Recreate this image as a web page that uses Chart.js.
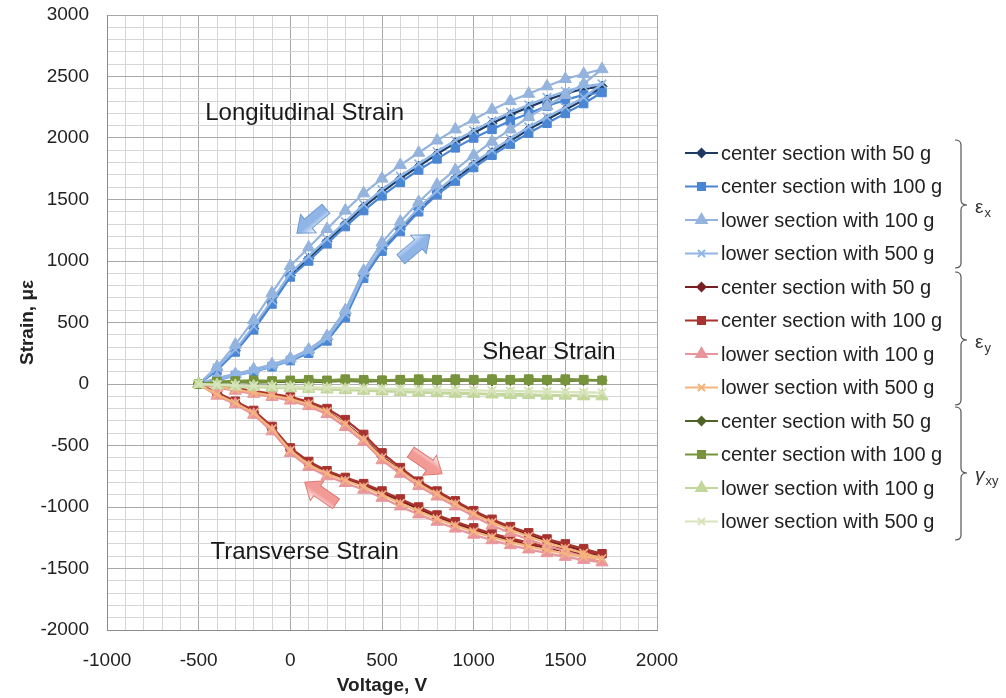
<!DOCTYPE html>
<html>
<head>
<meta charset="utf-8">
<script src="https://cdn.jsdelivr.net/npm/chart.js@4.4.1/dist/chart.umd.min.js"></script>
<style>
  html, body { margin: 0; padding: 0; background: #fff; }
  #wrap { position: relative; width: 1006px; height: 698px; }
</style>
</head>
<body>
<div id="wrap"><canvas id="strainChart"></canvas></div>
<script>
// voltage sweep: up from -500 V to 1700 V, then back down to -500 V
const voltage = [-500,-400,-300,-200,-100,0,100,200,300,400,500,600,700,800,900,1000,1100,1200,1300,1400,1500,1600,1700,
                 1600,1500,1400,1300,1200,1100,1000,900,800,700,600,500,400,300,200,100,0,-100,-200,-300,-400,-500];

// longitudinal strain (epsilon x), micro-strain
const exCenter50 = [0,40,75,110,150,200,260,360,560,880,1100,1260,1420,1560,1670,1780,1880,1975,2070,2150,2230,2310,2420,
                    2400,2360,2310,2250,2190,2120,2040,1960,1870,1770,1670,1560,1440,1300,1160,1020,880,660,450,270,120,0];
const exCenter100 = [0,30,70,100,140,190,250,350,540,860,1080,1240,1400,1540,1650,1760,1860,1950,2040,2120,2200,2280,2370,
                     2350,2310,2260,2200,2140,2070,2000,1920,1830,1740,1640,1530,1410,1280,1140,1000,870,650,440,260,110,0];
const exLower100 = [0,50,80,120,160,210,280,390,600,920,1150,1320,1480,1620,1740,1860,1970,2070,2170,2260,2350,2440,2560,
                    2520,2480,2420,2360,2300,2230,2150,2070,1980,1880,1780,1670,1550,1410,1260,1110,960,740,520,320,140,0];
const exLower500 = [0,35,70,105,145,195,265,370,570,890,1110,1270,1430,1570,1690,1800,1900,1995,2090,2170,2250,2330,2440,
                    2420,2380,2330,2270,2210,2140,2060,1980,1890,1790,1690,1580,1460,1320,1180,1040,900,680,470,280,130,0];

// transverse strain (epsilon y)
const eyCenter50 = [0,-20,-40,-65,-90,-115,-160,-220,-320,-440,-590,-700,-800,-885,-965,-1045,-1115,-1175,-1225,-1275,-1315,-1355,-1390,
                    -1380,-1360,-1335,-1305,-1270,-1230,-1185,-1135,-1080,-1015,-950,-885,-825,-775,-720,-645,-530,-360,-230,-150,-80,0];
const eyCenter100 = [0,-15,-35,-55,-80,-105,-145,-200,-290,-410,-560,-680,-790,-870,-950,-1030,-1100,-1160,-1210,-1260,-1300,-1340,-1380,
                     -1365,-1345,-1320,-1290,-1255,-1215,-1170,-1120,-1065,-1000,-935,-870,-810,-760,-705,-630,-520,-345,-215,-140,-70,0];
const eyLower100 = [0,-30,-55,-80,-105,-135,-180,-245,-350,-470,-620,-730,-830,-915,-995,-1075,-1150,-1210,-1265,-1315,-1360,-1405,-1450,
                    -1430,-1405,-1375,-1345,-1310,-1270,-1225,-1175,-1120,-1060,-995,-925,-860,-805,-750,-675,-560,-385,-250,-165,-95,0];
const eyLower500 = [0,-20,-45,-70,-95,-120,-165,-225,-325,-450,-600,-705,-810,-895,-975,-1055,-1125,-1185,-1240,-1290,-1335,-1375,-1420,
                    -1405,-1380,-1350,-1320,-1285,-1245,-1200,-1150,-1095,-1035,-970,-900,-835,-785,-730,-655,-540,-365,-235,-155,-85,0];

// shear strain (gamma xy)
const gCenter50 = [0,10,15,20,15,20,25,20,25,30,25,30,25,30,35,30,25,30,35,30,25,30,30,
                   30,35,30,25,30,35,30,25,30,25,30,25,20,25,20,15,20,15,10,15,10,0];
const gCenter100 = [0,20,25,30,25,30,35,30,40,35,30,35,40,35,30,35,40,35,30,35,40,35,30,
                    35,30,35,40,35,30,35,40,35,30,35,30,25,30,25,20,25,20,15,20,15,0];
const gLower100 = [0,-10,-15,-20,-25,-30,-35,-40,-45,-50,-55,-60,-65,-70,-70,-75,-80,-80,-85,-90,-90,-95,-100,
                   -100,-95,-95,-90,-90,-85,-80,-80,-75,-70,-65,-60,-55,-50,-45,-40,-35,-30,-25,-20,-10,0];
const gLower500 = [0,-5,-10,-15,-20,-20,-25,-30,-30,-35,-40,-40,-45,-45,-50,-50,-55,-55,-60,-60,-65,-65,-70,
                   -70,-65,-65,-60,-60,-55,-55,-50,-50,-45,-45,-40,-40,-35,-30,-30,-25,-20,-15,-10,-5,0];

const seriesLabels = ['center section with 50 g', 'center section with 100 g',
                      'lower section with 100 g', 'lower section with 500 g'];

const FONT = "'Liberation Sans', Arial, sans-serif";

const toPoints = arr => arr.map((s, i) => ({ x: voltage[i], y: s }));

function makeSet(label, values, color, style, radius) {
    const isCross = style === 'crossRot';
    return {
        label: label,
        data: toPoints(values),
        showLine: true,
        borderColor: color,
        backgroundColor: color,
        borderWidth: 2.2,
        pointStyle: style,
        pointRadius: radius,
        pointBackgroundColor: color,
        pointBorderColor: color,
        pointBorderWidth: isCross ? 1.6 : 1,
        tension: 0
    };
}

const datasets = [
    makeSet(seriesLabels[0], exCenter50, '#1f3a60', 'rectRot', 5),
    makeSet(seriesLabels[1], exCenter100, '#4a86d4', 'rect', 6),
    makeSet(seriesLabels[2], exLower100, '#94b3dd', 'triangle', 7),
    makeSet(seriesLabels[3], exLower500, '#8fb6e6', 'crossRot', 6),
    makeSet(seriesLabels[0], eyCenter50, '#7a1f1f', 'rectRot', 5),
    makeSet(seriesLabels[1], eyCenter100, '#a8322e', 'rect', 6),
    makeSet(seriesLabels[2], eyLower100, '#e8969b', 'triangle', 7),
    makeSet(seriesLabels[3], eyLower500, '#f5b47d', 'crossRot', 6),
    makeSet(seriesLabels[0], gCenter50, '#4f6228', 'rectRot', 5),
    makeSet(seriesLabels[1], gCenter100, '#77933c', 'rect', 6),
    makeSet(seriesLabels[2], gLower100, '#c3d69b', 'triangle', 7),
    makeSet(seriesLabels[3], gLower500, '#d8e4bc', 'crossRot', 6)
];
// later series sit on top, as in the spreadsheet original
datasets.forEach((ds, i) => { ds.order = datasets.length - 1 - i; });

// block arrow drawn in data coordinates
function blockArrow(ctx, x, y, angle, fill, stroke) {
    ctx.save();
    ctx.translate(x, y);
    ctx.rotate(angle);
    ctx.beginPath();
    ctx.moveTo(-19, -6);
    ctx.lineTo(4, -6);
    ctx.lineTo(4, -12);
    ctx.lineTo(19, 0);
    ctx.lineTo(4, 12);
    ctx.lineTo(4, 6);
    ctx.lineTo(-19, 6);
    ctx.closePath();
    const grad = ctx.createLinearGradient(0, -12, 0, 12);
    grad.addColorStop(0, '#ffffff');
    grad.addColorStop(0.45, fill);
    grad.addColorStop(1, fill);
    ctx.fillStyle = grad;
    ctx.fill();
    ctx.strokeStyle = stroke;
    ctx.lineWidth = 1;
    ctx.stroke();
    ctx.restore();
}

const decorations = {
    id: 'decorations',
    afterDatasetsDraw(chart) {
        const ctx = chart.ctx;
        const xs = chart.scales.x, ys = chart.scales.y;
        ctx.save();
        // annotations
        ctx.fillStyle = '#1a1a1a';
        ctx.font = '24px ' + FONT;
        ctx.textBaseline = 'middle';
        ctx.textAlign = 'left';
        ctx.fillText('Longitudinal Strain', xs.getPixelForValue(-464), ys.getPixelForValue(2203));
        ctx.fillText('Shear Strain', xs.getPixelForValue(1047), ys.getPixelForValue(260));
        ctx.fillText('Transverse Strain', xs.getPixelForValue(-436), ys.getPixelForValue(-1366));

        // direction arrows
        blockArrow(ctx, xs.getPixelForValue(115), ys.getPixelForValue(1325), 2.44, '#8fb4e6', '#6f98d0');
        blockArrow(ctx, xs.getPixelForValue(682), ys.getPixelForValue(1114), -0.70, '#8fb4e6', '#6f98d0');
        blockArrow(ctx, xs.getPixelForValue(742), ys.getPixelForValue(-642), 0.60, '#f29a96', '#dc7a75');
        blockArrow(ctx, xs.getPixelForValue(164), ys.getPixelForValue(-886), -2.54, '#f29a96', '#dc7a75');
        ctx.restore();
    },
    afterDraw(chart) {
        const ctx = chart.ctx;
        ctx.save();
        // legend with line + marker
        const top = 153, step = 33.5;
        chart.data.datasets.forEach((ds, i) => {
            const y = top + i * step;
            ctx.strokeStyle = ds.borderColor;
            ctx.lineWidth = 2;
            ctx.beginPath();
            ctx.moveTo(685, y);
            ctx.lineTo(718, y);
            ctx.stroke();
            ctx.fillStyle = ds.pointBackgroundColor;
            ctx.strokeStyle = ds.pointBorderColor;
            Chart.helpers.drawPoint(ctx, {
                pointStyle: ds.pointStyle, radius: ds.pointRadius - 1,
                borderWidth: ds.pointBorderWidth, rotation: 0
            }, 701.5, y);
            ctx.fillStyle = '#222';
            ctx.font = '20px ' + FONT;
            ctx.textBaseline = 'middle';
            ctx.textAlign = 'left';
            ctx.fillText(ds.label, 721, y + 1);
        });

        // braces grouping the legend entries
        const braces = [
            { y1: 140, y2: 268, ym: 205, sym: 'ε', sub: 'x', italic: false },
            { y1: 272, y2: 405, ym: 340, sym: 'ε', sub: 'y', italic: false },
            { y1: 407, y2: 540, ym: 473, sym: 'γ', sub: 'xy', italic: true }
        ];
        const bx = 961;
        ctx.strokeStyle = '#555';
        ctx.lineWidth = 1.2;
        braces.forEach(b => {
            ctx.beginPath();
            ctx.moveTo(bx - 6, b.y1);
            ctx.quadraticCurveTo(bx, b.y1, bx, b.y1 + 5);
            ctx.lineTo(bx, b.ym - 5);
            ctx.quadraticCurveTo(bx, b.ym, bx + 6, b.ym);
            ctx.quadraticCurveTo(bx, b.ym, bx, b.ym + 5);
            ctx.lineTo(bx, b.y2 - 5);
            ctx.quadraticCurveTo(bx, b.y2, bx - 6, b.y2);
            ctx.stroke();
            ctx.fillStyle = '#333';
            ctx.textBaseline = 'alphabetic';
            ctx.font = (b.italic ? 'italic ' : '') + '19px ' + FONT;
            ctx.fillText(b.sym, 975, b.ym + 8);
            const w = ctx.measureText(b.sym).width;
            ctx.font = '13px ' + FONT;
            ctx.fillText(b.sub, 975 + w + 1, b.ym + 12);
        });
        ctx.restore();
    }
};

const gridColor = ctx => (ctx.tick && ctx.tick.value % 500 === 0) ? '#a8a8a8' : '#d6d6d6';
const majorLabel = v => (v % 500 === 0 ? v : '');

new Chart(document.getElementById('strainChart'), {
    type: 'scatter',
    data: { datasets: datasets },
    options: {
        responsive: true,
        maintainAspectRatio: false,
        animation: false,
        layout: { padding: { top: 15, right: 349, left: 0, bottom: 0 } },
        plugins: {
            legend: { display: false },
            tooltip: { enabled: false }
        },
        scales: {
            x: {
                type: 'linear',
                min: -1000,
                max: 2000,
                afterFit: s => { s.height = 68; },
                ticks: {
                    stepSize: 100,
                    maxTicksLimit: 100,
                    autoSkip: false,
                    maxRotation: 0,
                    padding: 19,
                    color: '#222',
                    font: { family: FONT, size: 19 },
                    callback: majorLabel
                },
                grid: { color: gridColor, lineWidth: 1, drawTicks: false },
                border: { display: true, color: '#8c8c8c', width: 1 },
                title: {
                    display: true,
                    text: 'Voltage, V',
                    color: '#222',
                    font: { family: FONT, size: 19, weight: 'bold' },
                    padding: { top: 0, bottom: 1 }
                }
            },
            y: {
                type: 'linear',
                min: -2000,
                max: 3000,
                afterFit: s => {
                    s.width = 107;
                    // tick padding would otherwise push the plot top down
                    s.paddingTop = 10;
                    s.paddingBottom = 10;
                },
                ticks: {
                    stepSize: 100,
                    maxTicksLimit: 100,
                    autoSkip: false,
                    padding: 18,
                    color: '#222',
                    font: { family: FONT, size: 19 },
                    callback: majorLabel
                },
                grid: { color: gridColor, lineWidth: 1, drawTicks: false },
                border: { display: true, color: '#8c8c8c', width: 1 },
                title: {
                    display: true,
                    text: 'Strain, με',
                    color: '#222',
                    font: { family: FONT, size: 19, weight: 'bold' },
                    padding: { top: 16, bottom: 0 }
                }
            }
        }
    },
    plugins: [decorations]
});
</script>
</body>
</html>
